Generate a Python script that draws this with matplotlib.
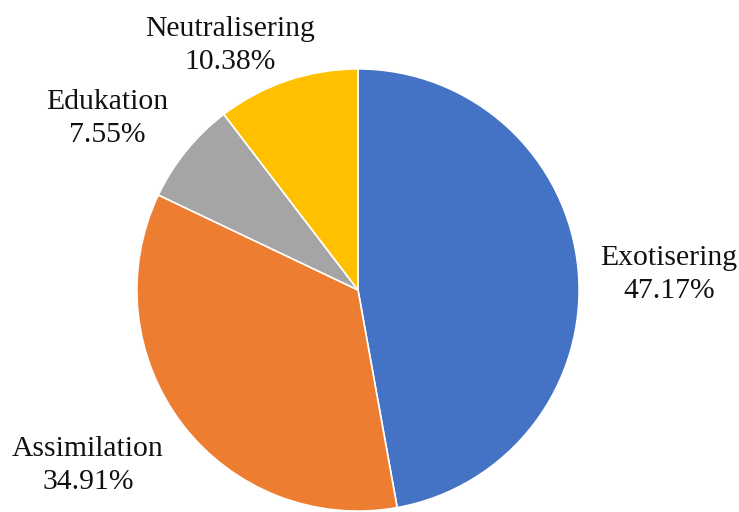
import matplotlib.pyplot as plt

# data
categorias = ['Exotisering', 'Assimilation', 'Edukation', 'Neutralisering']
porcentajes = [47.17, 34.91, 7.55, 10.38]
colores = ['#4472C4', '#ED7D31', '#A5A5A5', '#FFC000']

# label positions (in pie-radius units, relative to centre)
pos_etiquetas = [(1.414, 0.071), (-1.227, -0.797), (-1.141, 0.778), (-0.58, 1.11)]

fig = plt.figure(figsize=(7.39, 5.12), dpi=100)
ax = fig.add_axes([0, 0, 1, 1])

etiquetas = [f'{c}\n{p:.2f}%' for c, p in zip(categorias, porcentajes)]
wedges, textos = ax.pie(porcentajes, labels=etiquetas, colors=colores,
                        startangle=90, counterclock=False, radius=1.005,
                        wedgeprops=dict(edgecolor='white', linewidth=1.2),
                        textprops=dict(family='Liberation Serif', fontsize=21.3,
                                       color='#111111'))

for t, (x, y) in zip(textos, pos_etiquetas):
    t.set_position((x, y))
    t.set_ha('center')
    t.set_va('center')
    t.set_linespacing(1.35)

ax.set_xlim(-358 / 220, (739 - 358) / 220)
ax.set_ylim((290 - 512) / 220, 290 / 220)
ax.set_aspect('auto')
ax.axis('off')

fig.savefig('out.png', dpi=100)
